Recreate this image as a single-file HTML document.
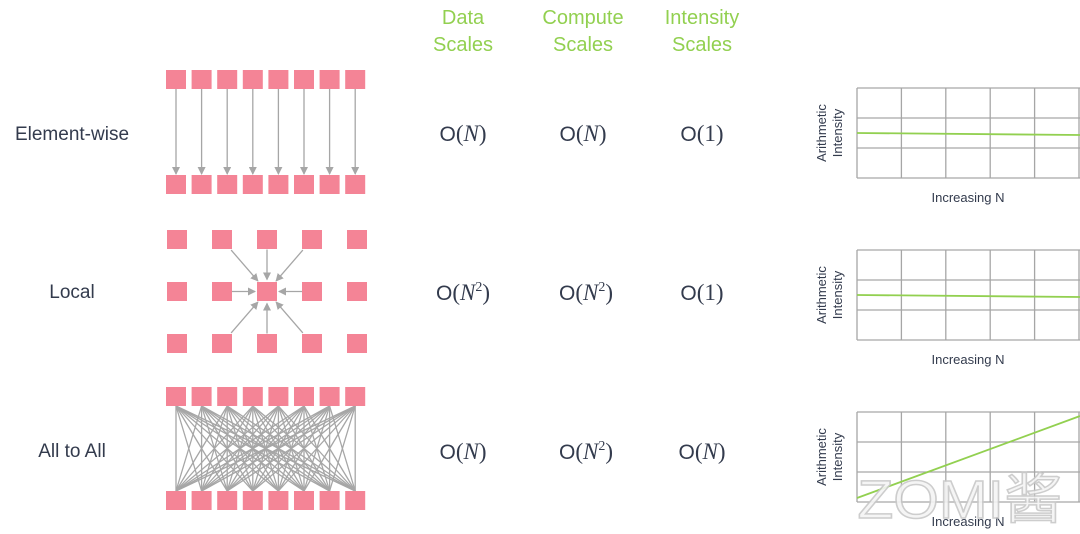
<!DOCTYPE html>
<html><head><meta charset="utf-8"><style>
html,body{margin:0;padding:0;background:#fff;width:1080px;height:534px;overflow:hidden}
svg{display:block}
.t{font-family:"Liberation Sans",sans-serif;fill:#333b4d}
.g{font-family:"Liberation Sans",sans-serif;fill:#92d050;font-size:20px;text-anchor:middle}
.o{font-family:"Liberation Serif",serif;fill:#333b4d;font-size:23px;text-anchor:middle}
.s{font-family:"Liberation Sans",sans-serif;font-size:21px}
.ax{font-family:"Liberation Sans",sans-serif;fill:#333b4d;font-size:13px;text-anchor:middle}
</style></head><body>
<svg id="s" width="1080" height="534" viewBox="0 0 1080 534" xmlns="http://www.w3.org/2000/svg">
<defs><marker id="a" markerWidth="8" markerHeight="8" refX="7" refY="4" orient="auto" markerUnits="userSpaceOnUse"><path d="M0,0L8,4L0,8z" fill="#a6a6a6"/></marker></defs>
<text class="g" x="463" y="24">Data</text><text class="g" x="463" y="51">Scales</text>
<text class="g" x="583" y="24">Compute</text><text class="g" x="583" y="51">Scales</text>
<text class="g" x="702" y="24">Intensity</text><text class="g" x="702" y="51">Scales</text>
<text class="t" x="72" y="140" font-size="19" text-anchor="middle">Element-wise</text>
<text class="t" x="72" y="298" font-size="19" text-anchor="middle">Local</text>
<text class="t" x="72" y="457" font-size="19" text-anchor="middle">All to All</text>
<text class="o" x="463" y="141"><tspan class="s">O</tspan>(<tspan font-style="italic">N</tspan>)</text>
<text class="o" x="583" y="141"><tspan class="s">O</tspan>(<tspan font-style="italic">N</tspan>)</text>
<text class="o" x="702" y="141"><tspan class="s">O</tspan>(1)</text>
<text class="o" x="463" y="300"><tspan class="s">O</tspan>(<tspan font-style="italic">N</tspan><tspan font-size="14" dy="-9">2</tspan><tspan dy="9">)</tspan></text>
<text class="o" x="586" y="300"><tspan class="s">O</tspan>(<tspan font-style="italic">N</tspan><tspan font-size="14" dy="-9">2</tspan><tspan dy="9">)</tspan></text>
<text class="o" x="702" y="300"><tspan class="s">O</tspan>(1)</text>
<text class="o" x="463" y="459"><tspan class="s">O</tspan>(<tspan font-style="italic">N</tspan>)</text>
<text class="o" x="586" y="459"><tspan class="s">O</tspan>(<tspan font-style="italic">N</tspan><tspan font-size="14" dy="-9">2</tspan><tspan dy="9">)</tspan></text>
<text class="o" x="702" y="459"><tspan class="s">O</tspan>(<tspan font-style="italic">N</tspan>)</text>
<g id="d"></g>
</svg>
<script>
var g=document.getElementById('d'),h='';
function R(x,y){h+='<rect x="'+x+'" y="'+y+'" width="20" height="19" fill="#f48496"/>';}
function L(x1,y1,x2,y2,m){h+='<line x1="'+x1+'" y1="'+y1+'" x2="'+x2+'" y2="'+y2+'" stroke="#a6a6a6" stroke-width="1.3"'+(m?' marker-end="url(#a)"':'')+'/>';}
var cx=[];for(var i=0;i<8;i++)cx.push(166+i*25.6);
for(i=0;i<8;i++){L(cx[i]+10,89,cx[i]+10,174,1);}
for(i=0;i<8;i++)for(var j=0;j<8;j++)L(cx[i]+10,406,cx[j]+10,491,0);
for(i=0;i<8;i++){R(cx[i],70);R(cx[i],175);R(cx[i],387);R(cx[i],491);}
var lx=[167,212,257,302,347],ly=[230,282,334];
var c=[267,291.5];
for(var r=0;r<3;r++)for(var k=1;k<4;k++){if(r==1&&k==2)continue;
 var sx=lx[k]+10,sy=ly[r]+9.5,dx=c[0]-sx,dy=c[1]-sy,len=Math.sqrt(dx*dx+dy*dy);
 var d=(Math.abs(dx)>1&&Math.abs(dy)>1)?14:10,e=(Math.abs(dx)>1&&Math.abs(dy)>1)?14:12;
 L(sx+dx/len*d,sy+dy/len*d,c[0]-dx/len*e,c[1]-dy/len*e,1);}
for(r=0;r<3;r++)for(k=0;k<5;k++)R(lx[k],ly[r]);
function C(t,y1,y2){
 for(var q=0;q<6;q++){var x=857+q*44.4;L(x,t,x,t+90,0);}
 for(q=0;q<4;q++)L(857,t+q*30,1080,t+q*30,0);
 h+='<line x1="857" y1="'+y1+'" x2="1080" y2="'+y2+'" stroke="#92d050" stroke-width="1.8"/>';
 h+='<text class="ax" x="968" y="'+(t+114)+'">Increasing N</text>';
 h+='<text class="ax" transform="translate(826,'+(t+45)+') rotate(-90)">Arithmetic</text>';
 h+='<text class="ax" transform="translate(842,'+(t+45)+') rotate(-90)">Intensity</text>';
}
C(88,133,135);C(250,295,297);C(412,498,416);
h+='<text x="960" y="518" font-family="Liberation Sans,Noto Sans CJK SC,sans-serif" font-size="54" fill="#f4f4f4" stroke="#c8c8c8" stroke-width="1.5" text-anchor="middle" textLength="205" lengthAdjust="spacingAndGlyphs" opacity="0.9">ZOMI酱</text>';
g.innerHTML=h;
</script>
</body></html>
